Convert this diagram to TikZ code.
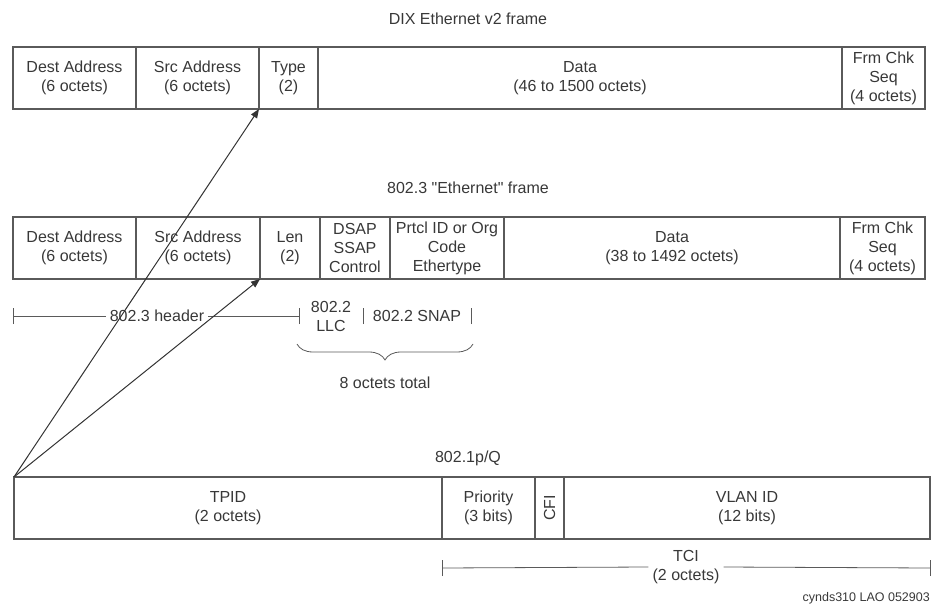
\documentclass[tikz,border=0pt]{standalone}
\usepackage{fontspec}
\setmainfont{Liberation Sans}[Ligatures=TeXOff]
\usetikzlibrary{arrows.meta,decorations.pathreplacing}
\definecolor{ln}{HTML}{5A5A5A}
\definecolor{tx}{HTML}{383838}
\begin{document}
\begin{tikzpicture}[x=1pt,y=-1pt,
  txt/.style={text=tx,font=\fontsize{16}{19}\selectfont,align=center,inner sep=0pt},
  field/.style={txt,draw=ln,line width=1.1pt,outer sep=0pt,minimum height=62pt},
  dim/.style={draw=ln,line width=0.8pt},
  arr/.style={draw=black!80,line width=1pt,-{Triangle[length=9pt,width=7pt]}}]
\useasboundingbox (0,0) rectangle (935,607);
% titles
\node[txt] (t1) at (468,19) {DIX Ethernet v2 frame};
\node[txt] (t2) at (468,188) {802.3 "Ethernet" frame};
\node[txt] (t3) at (468,458) {802.1p/Q};
% DIX frame
\node[field,minimum width=123pt] (adest) at (74.5,78) {Dest Address\\(6 octets)};
\node[field,minimum width=123pt] (asrc) at (197.5,78) {Src Address\\(6 octets)};
\node[field,minimum width=59pt] (atype) at (288.5,78) {Type\\(2)};
\node[field,minimum width=524pt] (adata) at (580,78) {Data\\(46 to 1500 octets)};
\node[field,minimum width=83pt] (afcs) at (883.5,78) {Frm Chk\\Seq\\(4 octets)};
% 802.3 frame
\node[field,minimum width=123pt] (bdest) at (74.5,248) {Dest Address\\(6 octets)};
\node[field,minimum width=124pt] (bsrc) at (198,248) {Src Address\\(6 octets)};
\node[field,minimum width=60pt] (blen) at (290,248) {Len\\(2)};
\node[field,minimum width=70pt] (bllc) at (355,248) {DSAP\\SSAP\\Control};
\node[field,minimum width=114pt] (bsnap) at (447,248) {Prtcl ID or Org\\Code\\Ethertype};
\node[field,minimum width=336pt] (bdata) at (672,248) {Data\\(38 to 1492 octets)};
\node[field,minimum width=85pt] (bfcs) at (882.5,248) {Frm Chk\\Seq\\(4 octets)};
% header annotations
\coordinate (h1) at (13,316);
\coordinate (h2) at (299,316);
\node[txt,inner xsep=4pt] (hdr) at (157,316) {802.3 header};
\draw[dim] (h1) -- (hdr.west) (hdr.east) -- (h2);
\draw[dim] ([yshift=-8pt]h1) -- ([yshift=8pt]h1);
\draw[dim] ([yshift=-8pt]h2) -- ([yshift=8pt]h2);
\node[txt] (llc) at (331,316) {802.2\\LLC};
\node[txt] (snap) at (417,316) {802.2 SNAP};
\coordinate (s1) at (363,316);
\coordinate (s2) at (471,316);
\draw[dim] ([yshift=-8pt]s1) -- ([yshift=8pt]s1);
\draw[dim] ([yshift=-8pt]s2) -- ([yshift=8pt]s2);
\coordinate (br1) at (297,344);
\coordinate (br2) at (473,344);
\draw[dim,decorate,decoration={brace,mirror,amplitude=16pt}] (br1) -- (br2);
\node[txt] (oct) at (385,383) {8 octets total};
% 802.1p/Q
\node[field,minimum width=428pt] (ctpid) at (228,508) {TPID\\(2 octets)};
\node[field,minimum width=93pt] (cpri) at (488.5,508) {Priority\\(3 bits)};
\node[field,minimum width=29pt] (ccfi) at (549.5,508) {};
\node[txt,rotate=90] (cfitxt) at (ccfi.center) {CFI};
\node[field,minimum width=366pt] (cvlan) at (747,508) {VLAN ID\\(12 bits)};
% TCI
\coordinate (c1) at (442,568);
\coordinate (c2) at (930,568);
\node[txt,inner xsep=4pt] (tci) at (686,567) {TCI\\(2 octets)};
\draw[dim] (c1) -- (tci.west) (tci.east) -- (c2);
\draw[dim] ([yshift=-8pt]c1) -- ([yshift=8pt]c1);
\draw[dim] ([yshift=-8pt]c2) -- ([yshift=8pt]c2);
\node[txt,anchor=east,font=\fontsize{12.5}{14}\selectfont] (credit) at (930,598) {cynds310 LAO 052903};
% arrows
\draw[arr] (ctpid.north west) -- (atype.south west);
\draw[arr] (ctpid.north west) -- (blen.south west);
\end{tikzpicture}
\end{document}
